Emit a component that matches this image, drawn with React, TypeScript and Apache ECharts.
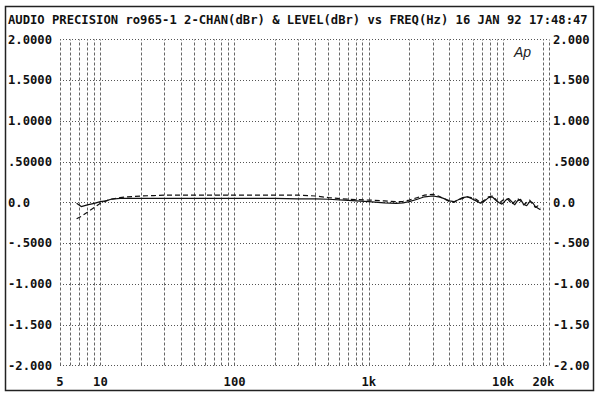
import React, { useEffect, useRef } from "react";
import * as echarts from "echarts";

const TITLE =
  "AUDIO PRECISION ro965-1 2-CHAN(dBr) & LEVEL(dBr) vs FREQ(Hz) 16 JAN 92 17:48:47";

const yTickValues = [2, 1.5, 1, 0.5, 0, -0.5, -1, -1.5, -2];
const leftYLabels = ["2.0000", "1.5000", "1.0000", ".50000", "0.0", "-.5000", "-1.000", "-1.500", "-2.000"];
const rightYLabels = ["2.000", "1.500", "1.000", ".5000", "0.0", "-.500", "-1.00", "-1.50", "-2.00"];

const xTickValues = [5, 10, 100, 1000, 10000, 20000];
const xTickLabels = ["5", "10", "100", "1k", "10k", "20k"];

const gridFreqs = [
  5, 6, 7, 8, 9, 10, 20, 30, 40, 50, 60, 70, 80, 90, 100, 200, 300, 400, 500, 600, 700, 800, 900,
  1000, 2000, 3000, 4000, 5000, 6000, 7000, 8000, 9000, 10000, 20000, 22000,
];

const freqs = [
  6.65, 7.2, 8, 9, 10, 11, 12, 14, 16, 20, 25, 30, 40, 50, 60, 80, 100, 150, 200, 300, 400, 500,
  700, 1000, 1300, 1600, 1800, 2000, 2300, 2600, 3000, 3300, 3600, 4000, 4300, 4600, 5000, 5400,
  5800, 6300, 6800, 7300, 7800, 8300, 8800, 9300, 9800, 10500, 11000, 11600, 12200, 12800, 13500,
  14200, 15000, 15800, 16600, 17400, 18200, 19000,
];

const solidValues = [
  -0.01, -0.05, -0.03, -0.01, 0.01, 0.02, 0.04, 0.05, 0.05, 0.05, 0.05, 0.05, 0.05, 0.05, 0.05,
  0.05, 0.05, 0.05, 0.05, 0.045, 0.045, 0.04, 0.025, 0.01, -0.005, -0.01, -0.005, 0.01, 0.04, 0.07,
  0.08, 0.07, 0.05, 0.02, 0.01, 0.03, 0.06, 0.07, 0.05, 0.02, -0.01, 0.02, 0.06, 0.07, 0.03, 0.0,
  -0.02, 0.03, 0.05, 0.01, -0.03, 0.02, 0.04, -0.02, -0.04, 0.01, 0.0, -0.05, -0.07, -0.09,
];

const dashedValues = [
  -0.2, -0.17, -0.12, -0.06, -0.01, 0.02, 0.04, 0.06, 0.07, 0.08, 0.085, 0.09, 0.09, 0.09, 0.09,
  0.09, 0.09, 0.09, 0.09, 0.09, 0.08, 0.06, 0.04, 0.03, 0.02, 0.01, 0.015, 0.03, 0.06, 0.09, 0.1,
  0.08, 0.05, 0.01, 0.0, 0.03, 0.05, 0.07, 0.06, 0.04, 0.0, 0.03, 0.07, 0.08, 0.04, -0.01, 0.02,
  0.05, 0.03, -0.02, 0.01, 0.05, 0.02, -0.03, 0.0, 0.03, -0.02, -0.06, -0.04, -0.07,
];

const FONT = "DejaVu Sans Mono";

function labelFor(values: number[], labels: string[], v: number): string {
  for (let i = 0; i < values.length; i++) {
    if (Math.abs(values[i] - v) < 1e-6 * Math.max(1, Math.abs(values[i]))) return labels[i];
  }
  return "";
}

export default function App() {
  const ref = useRef<HTMLDivElement>(null);
  useEffect(() => {
    if (!ref.current) return;
    const chart = echarts.init(ref.current, undefined, { renderer: "svg" });
    const labelStyle = {
      fontFamily: FONT,
      fontWeight: "bold" as const,
      fontSize: 12.2,
      color: "#111",
    };
    chart.setOption({
      animation: false,
      backgroundColor: "#fff",
      grid: { left: 60, right: 51, top: 39.5, bottom: 34.5, containLabel: false },
      xAxis: {
        type: "log",
        logBase: 10,
        min: 5,
        max: 22000,
        axisLine: { show: false },
        axisTick: { show: false },
        splitLine: { show: false },
        axisLabel: {
          ...labelStyle,
          customValues: xTickValues,
          margin: 10,
          formatter: (v: number) => labelFor(xTickValues, xTickLabels, v),
        },
      },
      yAxis: [
        {
          type: "value",
          min: -2,
          max: 2,
          interval: 0.5,
          axisLine: { show: false },
          axisTick: { show: false },
          splitLine: { show: true, lineStyle: { type: [1, 2], color: "#555", width: 1 } },
          axisLabel: {
            ...labelStyle,
            align: "left",
            margin: 52,
            formatter: (v: number) => labelFor(yTickValues, leftYLabels, v),
          },
        },
        {
          type: "value",
          position: "right",
          min: -2,
          max: 2,
          interval: 0.5,
          axisLine: { show: false },
          axisTick: { show: false },
          splitLine: { show: false },
          axisLabel: {
            ...labelStyle,
            align: "left",
            margin: 4,
            formatter: (v: number) => labelFor(yTickValues, rightYLabels, v),
          },
        },
      ],
      graphic: [
        {
          type: "rect",
          shape: { x: 5.5, y: 6.5, width: 588, height: 384 },
          style: { fill: "none", stroke: "#222", lineWidth: 1.5 },
          silent: true,
        },
        {
          type: "text",
          left: 8,
          top: 14,
          style: { text: TITLE, font: `bold 12.2px "${FONT}"`, fill: "#111" },
          silent: true,
        },
        {
          type: "text",
          left: 514,
          top: 45,
          style: { text: "Ap", font: `italic 14px "Liberation Sans"`, fill: "#222" },
          silent: true,
        },
      ],
      series: [
        {
          type: "line",
          name: "2-CHAN",
          yAxisIndex: 0,
          showSymbol: false,
          data: freqs.map((f, i) => [f, solidValues[i]]),
          lineStyle: { color: "#111", width: 1.2, type: "solid" },
          z: 3,
          markLine: {
            silent: true,
            symbol: ["none", "none"],
            label: { show: false },
            lineStyle: { type: [3, 2], color: "#666", width: 1 },
            data: gridFreqs.map((f) => ({ xAxis: f })),
            z: 1,
          },
        },
        {
          type: "line",
          name: "LEVEL",
          yAxisIndex: 0,
          showSymbol: false,
          data: freqs.map((f, i) => [f, dashedValues[i]]),
          lineStyle: { color: "#111", width: 1.2, type: [5, 3] },
          z: 3,
        },
      ],
    });
    return () => chart.dispose();
  }, []);
  return (
    <div
      ref={ref}
      style={{ position: "absolute", left: 0, top: 0, width: 600, height: 400 }}
    />
  );
}
